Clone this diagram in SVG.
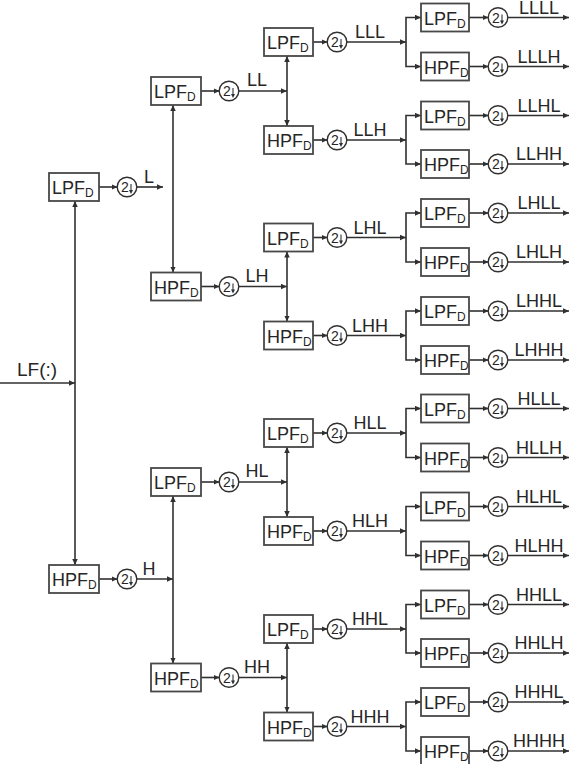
<svg xmlns="http://www.w3.org/2000/svg" xmlns:xlink="http://www.w3.org/1999/xlink" width="571" height="764" viewBox="0 0 571 764">
  <style>
    .box{fill:#fff;stroke:#484848;stroke-width:1.8}
    .ln{fill:none;stroke:#303030;stroke-width:1.6}
    .arr{marker-end:url(#ah)}
    .both{marker-start:url(#ah);marker-end:url(#ah)}
    .t{font-family:"Liberation Sans",Arial,sans-serif;fill:#262626}
    .bt{font-size:18px}
    .sub{font-size:12px}
    .lb{font-size:18px;text-anchor:middle}
  </style>
  <defs>
    <marker id="ah" markerUnits="userSpaceOnUse" markerWidth="7" markerHeight="6" refX="6" refY="2.75" orient="auto-start-reverse">
      <path d="M0,0 L6,2.75 L0,5.5 z" fill="#303030"/>
    </marker>
    <!-- downsample-by-2 symbol -->
    <g id="ds">
      <circle r="9.8" fill="#fff" stroke="#303030" stroke-width="1.4"/>
      <text class="t" x="-2" y="5" font-size="14" text-anchor="middle">2</text>
      <path d="M4,-3 V3.5" stroke="#303030" stroke-width="1.1"/>
      <path d="M2,3 L6,3 L4,7 z" fill="#303030"/>
    </g>
  </defs>

  <!-- connectors -->
  <g id="connectors">
    <!-- input -->
    <path class="ln arr" d="M0,383 H75"/>
    <!-- level 1 -->
    <path class="ln both" d="M75,201 V565"/>
    <path class="ln arr" d="M99,187 H117.5"/>
    <path class="ln arr" d="M136.5,187 H163"/>
    <path class="ln arr" d="M99,579 H117.5"/>
    <path class="ln arr" d="M136.5,579 H173"/>
    <!-- level 2 -->
    <path class="ln both" d="M173,105 V272.5"/>
    <path class="ln both" d="M173,496 V663.5"/>
    <path class="ln arr" d="M201,91 H219.5"/>
    <path class="ln arr" d="M238.5,91 H287"/>
    <path class="ln arr" d="M201,286.5 H219.5"/>
    <path class="ln arr" d="M238.5,286.5 H287"/>
    <path class="ln arr" d="M201,482 H219.5"/>
    <path class="ln arr" d="M238.5,482 H287"/>
    <path class="ln arr" d="M201,677.5 H219.5"/>
    <path class="ln arr" d="M238.5,677.5 H287"/>
    <!-- level 3 -->
    <path class="ln both" d="M287,56 V126"/>
    <path class="ln both" d="M287,251.5 V321.5"/>
    <path class="ln both" d="M287,447 V517"/>
    <path class="ln both" d="M287,643 V712.5"/>
    <path class="ln arr" d="M313,42 H327.5"/><path class="ln arr" d="M346.5,42 H406"/>
    <path class="ln arr" d="M313,140 H327.5"/><path class="ln arr" d="M346.5,140 H406"/>
    <path class="ln arr" d="M313,237.5 H327.5"/><path class="ln arr" d="M346.5,237.5 H406"/>
    <path class="ln arr" d="M313,335.5 H327.5"/><path class="ln arr" d="M346.5,335.5 H406"/>
    <path class="ln arr" d="M313,433 H327.5"/><path class="ln arr" d="M346.5,433 H406"/>
    <path class="ln arr" d="M313,531 H327.5"/><path class="ln arr" d="M346.5,531 H406"/>
    <path class="ln arr" d="M313,629 H327.5"/><path class="ln arr" d="M346.5,629 H406"/>
    <path class="ln arr" d="M313,726.5 H327.5"/><path class="ln arr" d="M346.5,726.5 H406"/>
    <!-- level 4 branches -->
    <path class="ln both" d="M421,17.5 H406 V66.5 H421"/>
    <path class="ln both" d="M421,115.5 H406 V164 H421"/>
    <path class="ln both" d="M421,213 H406 V262 H421"/>
    <path class="ln both" d="M421,311 H406 V360 H421"/>
    <path class="ln both" d="M421,408.5 H406 V457.5 H421"/>
    <path class="ln both" d="M421,506.5 H406 V555.5 H421"/>
    <path class="ln both" d="M421,604.5 H406 V653 H421"/>
    <path class="ln both" d="M421,702 H406 V751 H421"/>
    <!-- level 4 outputs -->
    <path class="ln arr" d="M469,17.5 H488.5"/><path class="ln arr" d="M507.5,17.5 H569"/>
    <path class="ln arr" d="M469,66.5 H488.5"/><path class="ln arr" d="M507.5,66.5 H569"/>
    <path class="ln arr" d="M469,115.5 H488.5"/><path class="ln arr" d="M507.5,115.5 H569"/>
    <path class="ln arr" d="M469,164 H488.5"/><path class="ln arr" d="M507.5,164 H569"/>
    <path class="ln arr" d="M469,213 H488.5"/><path class="ln arr" d="M507.5,213 H569"/>
    <path class="ln arr" d="M469,262 H488.5"/><path class="ln arr" d="M507.5,262 H569"/>
    <path class="ln arr" d="M469,311 H488.5"/><path class="ln arr" d="M507.5,311 H569"/>
    <path class="ln arr" d="M469,360 H488.5"/><path class="ln arr" d="M507.5,360 H569"/>
    <path class="ln arr" d="M469,408.5 H488.5"/><path class="ln arr" d="M507.5,408.5 H569"/>
    <path class="ln arr" d="M469,457.5 H488.5"/><path class="ln arr" d="M507.5,457.5 H569"/>
    <path class="ln arr" d="M469,506.5 H488.5"/><path class="ln arr" d="M507.5,506.5 H569"/>
    <path class="ln arr" d="M469,555.5 H488.5"/><path class="ln arr" d="M507.5,555.5 H569"/>
    <path class="ln arr" d="M469,604.5 H488.5"/><path class="ln arr" d="M507.5,604.5 H569"/>
    <path class="ln arr" d="M469,653 H488.5"/><path class="ln arr" d="M507.5,653 H569"/>
    <path class="ln arr" d="M469,702 H488.5"/><path class="ln arr" d="M507.5,702 H569"/>
    <path class="ln arr" d="M469,751 H488.5"/><path class="ln arr" d="M507.5,751 H569"/>
  </g>

  <!-- signal labels -->
  <g id="labels" class="t">
    <text x="17" y="376" font-size="19">LF(:)</text>
    <text class="lb" x="149" y="183">L</text>
    <text class="lb" x="149" y="575">H</text>
    <text class="lb" x="257" y="86">LL</text>
    <text class="lb" x="257" y="281.5">LH</text>
    <text class="lb" x="257" y="477">HL</text>
    <text class="lb" x="257" y="672.5">HH</text>
    <text class="lb" x="370" y="38">LLL</text>
    <text class="lb" x="370" y="136">LLH</text>
    <text class="lb" x="370" y="233.5">LHL</text>
    <text class="lb" x="370" y="331.5">LHH</text>
    <text class="lb" x="370" y="429">HLL</text>
    <text class="lb" x="370" y="527">HLH</text>
    <text class="lb" x="370" y="625">HHL</text>
    <text class="lb" x="370" y="722.5">HHH</text>
    <text class="lb" x="539" y="14">LLLL</text>
    <text class="lb" x="539" y="62.5">LLLH</text>
    <text class="lb" x="539" y="111.5">LLHL</text>
    <text class="lb" x="539" y="160">LLHH</text>
    <text class="lb" x="539" y="209">LHLL</text>
    <text class="lb" x="539" y="258">LHLH</text>
    <text class="lb" x="539" y="307">LHHL</text>
    <text class="lb" x="539" y="356">LHHH</text>
    <text class="lb" x="539" y="404.5">HLLL</text>
    <text class="lb" x="539" y="453.5">HLLH</text>
    <text class="lb" x="539" y="502.5">HLHL</text>
    <text class="lb" x="539" y="551.5">HLHH</text>
    <text class="lb" x="539" y="600.5">HHLL</text>
    <text class="lb" x="539" y="649">HHLH</text>
    <text class="lb" x="539" y="698">HHHL</text>
    <text class="lb" x="539" y="747">HHHH</text>
  </g>

  <!-- level 1 -->
  <g id="L-lpf"><rect class="box" x="49" y="173" width="50" height="28"/><text class="t bt" x="52" y="194">LPF<tspan class="sub" dy="3">D</tspan></text></g>
  <g id="L-ds"><use xlink:href="#ds" x="127" y="187"/></g>
  <g id="H-hpf"><rect class="box" x="49" y="565" width="50" height="28"/><text class="t bt" x="52" y="586">HPF<tspan class="sub" dy="3">D</tspan></text></g>
  <g id="H-ds"><use xlink:href="#ds" x="127" y="579"/></g>

  <!-- level 2 -->
  <g id="LL-lpf"><rect class="box" x="151" y="77" width="50" height="28"/><text class="t bt" x="154" y="98">LPF<tspan class="sub" dy="3">D</tspan></text></g>
  <g id="LL-ds"><use xlink:href="#ds" x="229" y="91"/></g>
  <g id="LH-hpf"><rect class="box" x="151" y="272.5" width="50" height="28"/><text class="t bt" x="154" y="293.5">HPF<tspan class="sub" dy="3">D</tspan></text></g>
  <g id="LH-ds"><use xlink:href="#ds" x="229" y="286.5"/></g>
  <g id="HL-lpf"><rect class="box" x="151" y="468" width="50" height="28"/><text class="t bt" x="154" y="489">LPF<tspan class="sub" dy="3">D</tspan></text></g>
  <g id="HL-ds"><use xlink:href="#ds" x="229" y="482"/></g>
  <g id="HH-hpf"><rect class="box" x="151" y="663.5" width="50" height="28"/><text class="t bt" x="154" y="684.5">HPF<tspan class="sub" dy="3">D</tspan></text></g>
  <g id="HH-ds"><use xlink:href="#ds" x="229" y="677.5"/></g>

  <!-- level 3 -->
  <g id="LLL-lpf"><rect class="box" x="264" y="28" width="49" height="28"/><text class="t bt" x="267" y="49">LPF<tspan class="sub" dy="3">D</tspan></text></g>
  <g id="LLL-ds"><use xlink:href="#ds" x="337" y="42"/></g>
  <g id="LLH-hpf"><rect class="box" x="264" y="126" width="49" height="28"/><text class="t bt" x="267" y="147">HPF<tspan class="sub" dy="3">D</tspan></text></g>
  <g id="LLH-ds"><use xlink:href="#ds" x="337" y="140"/></g>
  <g id="LHL-lpf"><rect class="box" x="264" y="223.5" width="49" height="28"/><text class="t bt" x="267" y="244.5">LPF<tspan class="sub" dy="3">D</tspan></text></g>
  <g id="LHL-ds"><use xlink:href="#ds" x="337" y="237.5"/></g>
  <g id="LHH-hpf"><rect class="box" x="264" y="321.5" width="49" height="28"/><text class="t bt" x="267" y="342.5">HPF<tspan class="sub" dy="3">D</tspan></text></g>
  <g id="LHH-ds"><use xlink:href="#ds" x="337" y="335.5"/></g>
  <g id="HLL-lpf"><rect class="box" x="264" y="419" width="49" height="28"/><text class="t bt" x="267" y="440">LPF<tspan class="sub" dy="3">D</tspan></text></g>
  <g id="HLL-ds"><use xlink:href="#ds" x="337" y="433"/></g>
  <g id="HLH-hpf"><rect class="box" x="264" y="517" width="49" height="28"/><text class="t bt" x="267" y="538">HPF<tspan class="sub" dy="3">D</tspan></text></g>
  <g id="HLH-ds"><use xlink:href="#ds" x="337" y="531"/></g>
  <g id="HHL-lpf"><rect class="box" x="264" y="615" width="49" height="28"/><text class="t bt" x="267" y="636">LPF<tspan class="sub" dy="3">D</tspan></text></g>
  <g id="HHL-ds"><use xlink:href="#ds" x="337" y="629"/></g>
  <g id="HHH-hpf"><rect class="box" x="264" y="712.5" width="49" height="28"/><text class="t bt" x="267" y="733.5">HPF<tspan class="sub" dy="3">D</tspan></text></g>
  <g id="HHH-ds"><use xlink:href="#ds" x="337" y="726.5"/></g>

  <!-- level 4 -->
  <g id="LLLL-lpf"><rect class="box" x="421" y="3.5" width="48" height="28"/><text class="t bt" x="424" y="24.5">LPF<tspan class="sub" dy="3">D</tspan></text></g>
  <g id="LLLL-ds"><use xlink:href="#ds" x="498" y="17.5"/></g>
  <g id="LLLH-hpf"><rect class="box" x="421" y="52.5" width="48" height="28"/><text class="t bt" x="424" y="73.5">HPF<tspan class="sub" dy="3">D</tspan></text></g>
  <g id="LLLH-ds"><use xlink:href="#ds" x="498" y="66.5"/></g>
  <g id="LLHL-lpf"><rect class="box" x="421" y="101.5" width="48" height="28"/><text class="t bt" x="424" y="122.5">LPF<tspan class="sub" dy="3">D</tspan></text></g>
  <g id="LLHL-ds"><use xlink:href="#ds" x="498" y="115.5"/></g>
  <g id="LLHH-hpf"><rect class="box" x="421" y="150" width="48" height="28"/><text class="t bt" x="424" y="171">HPF<tspan class="sub" dy="3">D</tspan></text></g>
  <g id="LLHH-ds"><use xlink:href="#ds" x="498" y="164"/></g>
  <g id="LHLL-lpf"><rect class="box" x="421" y="199" width="48" height="28"/><text class="t bt" x="424" y="220">LPF<tspan class="sub" dy="3">D</tspan></text></g>
  <g id="LHLL-ds"><use xlink:href="#ds" x="498" y="213"/></g>
  <g id="LHLH-hpf"><rect class="box" x="421" y="248" width="48" height="28"/><text class="t bt" x="424" y="269">HPF<tspan class="sub" dy="3">D</tspan></text></g>
  <g id="LHLH-ds"><use xlink:href="#ds" x="498" y="262"/></g>
  <g id="LHHL-lpf"><rect class="box" x="421" y="297" width="48" height="28"/><text class="t bt" x="424" y="318">LPF<tspan class="sub" dy="3">D</tspan></text></g>
  <g id="LHHL-ds"><use xlink:href="#ds" x="498" y="311"/></g>
  <g id="LHHH-hpf"><rect class="box" x="421" y="346" width="48" height="28"/><text class="t bt" x="424" y="367">HPF<tspan class="sub" dy="3">D</tspan></text></g>
  <g id="LHHH-ds"><use xlink:href="#ds" x="498" y="360"/></g>
  <g id="HLLL-lpf"><rect class="box" x="421" y="394.5" width="48" height="28"/><text class="t bt" x="424" y="415.5">LPF<tspan class="sub" dy="3">D</tspan></text></g>
  <g id="HLLL-ds"><use xlink:href="#ds" x="498" y="408.5"/></g>
  <g id="HLLH-hpf"><rect class="box" x="421" y="443.5" width="48" height="28"/><text class="t bt" x="424" y="464.5">HPF<tspan class="sub" dy="3">D</tspan></text></g>
  <g id="HLLH-ds"><use xlink:href="#ds" x="498" y="457.5"/></g>
  <g id="HLHL-lpf"><rect class="box" x="421" y="492.5" width="48" height="28"/><text class="t bt" x="424" y="513.5">LPF<tspan class="sub" dy="3">D</tspan></text></g>
  <g id="HLHL-ds"><use xlink:href="#ds" x="498" y="506.5"/></g>
  <g id="HLHH-hpf"><rect class="box" x="421" y="541.5" width="48" height="28"/><text class="t bt" x="424" y="562.5">HPF<tspan class="sub" dy="3">D</tspan></text></g>
  <g id="HLHH-ds"><use xlink:href="#ds" x="498" y="555.5"/></g>
  <g id="HHLL-lpf"><rect class="box" x="421" y="590.5" width="48" height="28"/><text class="t bt" x="424" y="611.5">LPF<tspan class="sub" dy="3">D</tspan></text></g>
  <g id="HHLL-ds"><use xlink:href="#ds" x="498" y="604.5"/></g>
  <g id="HHLH-hpf"><rect class="box" x="421" y="639" width="48" height="28"/><text class="t bt" x="424" y="660">HPF<tspan class="sub" dy="3">D</tspan></text></g>
  <g id="HHLH-ds"><use xlink:href="#ds" x="498" y="653"/></g>
  <g id="HHHL-lpf"><rect class="box" x="421" y="688" width="48" height="28"/><text class="t bt" x="424" y="709">LPF<tspan class="sub" dy="3">D</tspan></text></g>
  <g id="HHHL-ds"><use xlink:href="#ds" x="498" y="702"/></g>
  <g id="HHHH-hpf"><rect class="box" x="421" y="737" width="48" height="28"/><text class="t bt" x="424" y="758">HPF<tspan class="sub" dy="3">D</tspan></text></g>
  <g id="HHHH-ds"><use xlink:href="#ds" x="498" y="751"/></g>
</svg>
